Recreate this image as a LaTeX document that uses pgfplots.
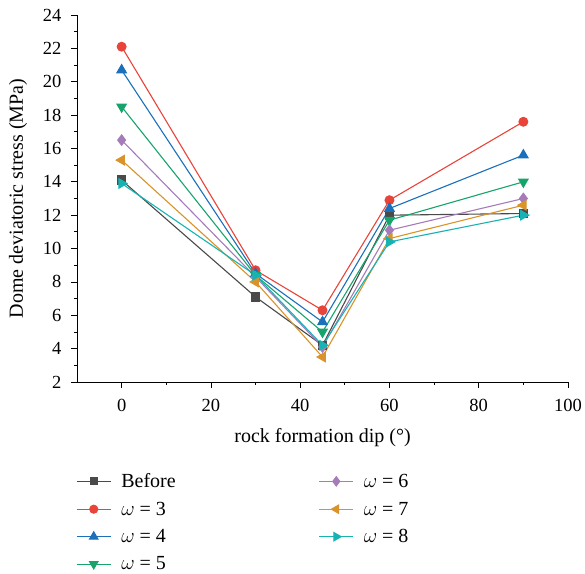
\documentclass[border=0pt]{standalone}
\usepackage{pgfplots}
\pgfplotsset{compat=1.18}
\usepackage{fontspec}
\setmainfont{Liberation Serif}
\definecolor{cB}{HTML}{4A4A4A}
\definecolor{c3}{HTML}{E8443A}
\definecolor{c4}{HTML}{1A70BA}
\definecolor{c5}{HTML}{16A46C}
\definecolor{c6}{HTML}{A57BBA}
\definecolor{c7}{HTML}{D9932A}
\definecolor{c8}{HTML}{17B3B3}
\begin{document}
\begin{tikzpicture}
\useasboundingbox (0,0) rectangle (585pt,573pt);
\begin{axis}[
  at={(77pt,191pt)}, anchor=south west,
  scale only axis,
  width=491pt, height=367pt,
  xmin=-10, xmax=100, ymin=2, ymax=24,
  axis x line*=bottom, axis y line*=left,
  tick align=outside,
  xtick={0,20,...,100}, minor x tick num=1,
  ytick={2,4,...,24}, minor y tick num=1,
  major tick length=6pt, minor tick length=3pt,
  tick style={black, line width=0.8pt},
  axis line style={line width=0.8pt},
  /pgf/number format/assume math mode=true,
  ticklabel style={font=\fontsize{18.5}{21}\selectfont},
  label style={font=\fontsize{20}{23}\selectfont},
  xlabel={rock formation dip (°)},
  ylabel={Dome deviatoric stress (MPa)},
  xticklabel style={yshift=-8pt},
  yticklabel style={xshift=-6pt},
  xlabel style={yshift=-10pt},
  ylabel style={yshift=9pt},
  every axis plot/.append style={line width=1.1pt},
  legend columns=2,
  legend cell align=left,
  legend style={draw=none, at={(axis description cs:0,-0.238)}, anchor=north west, xshift=-4pt,
    font=\fontsize{20}{23}\selectfont,
    /tikz/every even column/.append style={column sep=141pt},
    row sep=8.7pt},
  legend image code/.code={\draw[mark repeat=2,mark phase=2] plot coordinates {(0pt,0pt) (17pt,0pt) (34pt,0pt)}; \path (42pt,0pt);},
]
\addplot[forget plot, cB, mark=square*, mark size=4.2pt] coordinates {(0,14.1) (30,7.1) (45,4.2) (60,12.0) (90,12.1)};
\addplot[forget plot, c3, mark=*, mark size=4.4pt] coordinates {(0,22.1) (30,8.7) (45,6.3) (60,12.9) (90,17.6)};
\addplot[forget plot, c4, mark=triangle*, mark size=5.4pt] coordinates {(0,20.7) (30,8.5) (45,5.6) (60,12.4) (90,15.6)};
\addplot[forget plot, c5, mark=triangle*, mark size=5.4pt, mark options={rotate=180}] coordinates {(0,18.5) (30,8.4) (45,5.0) (60,11.7) (90,14.0)};
\addplot[forget plot, c6, mark=diamond*, mark size=5.2pt] coordinates {(0,16.5) (30,8.3) (45,4.1) (60,11.1) (90,13.0)};
\addplot[forget plot, c7, mark=triangle*, mark size=5.4pt, mark options={rotate=90}] coordinates {(0,15.3) (30,8.0) (45,3.5) (60,10.6) (90,12.6)};
\addplot[forget plot, c8, mark=triangle*, mark size=5.4pt, mark options={rotate=-90}] coordinates {(0,13.9) (30,8.4) (45,4.2) (60,10.4) (90,12.0)};
\addlegendimage{cB, mark=square*, line width=1.1pt, mark size=3.6pt}
\addlegendentry{Before}
\addlegendimage{c6, mark=diamond*, line width=1.1pt, mark size=4.6pt}
\addlegendentry{$\omega$ = 6}
\addlegendimage{c3, mark=*, line width=1.1pt, mark size=4pt}
\addlegendentry{$\omega$ = 3}
\addlegendimage{c7, mark=triangle*, mark options={rotate=90}, line width=1.1pt, mark size=4.8pt}
\addlegendentry{$\omega$ = 7}
\addlegendimage{c4, mark=triangle*, line width=1.1pt, mark size=4.8pt}
\addlegendentry{$\omega$ = 4}
\addlegendimage{c8, mark=triangle*, mark options={rotate=-90}, line width=1.1pt, mark size=4.8pt}
\addlegendentry{$\omega$ = 8}
\addlegendimage{c5, mark=triangle*, mark options={rotate=180}, line width=1.1pt, mark size=4.8pt}
\addlegendentry{$\omega$ = 5}
\end{axis}
\end{tikzpicture}
\end{document}
